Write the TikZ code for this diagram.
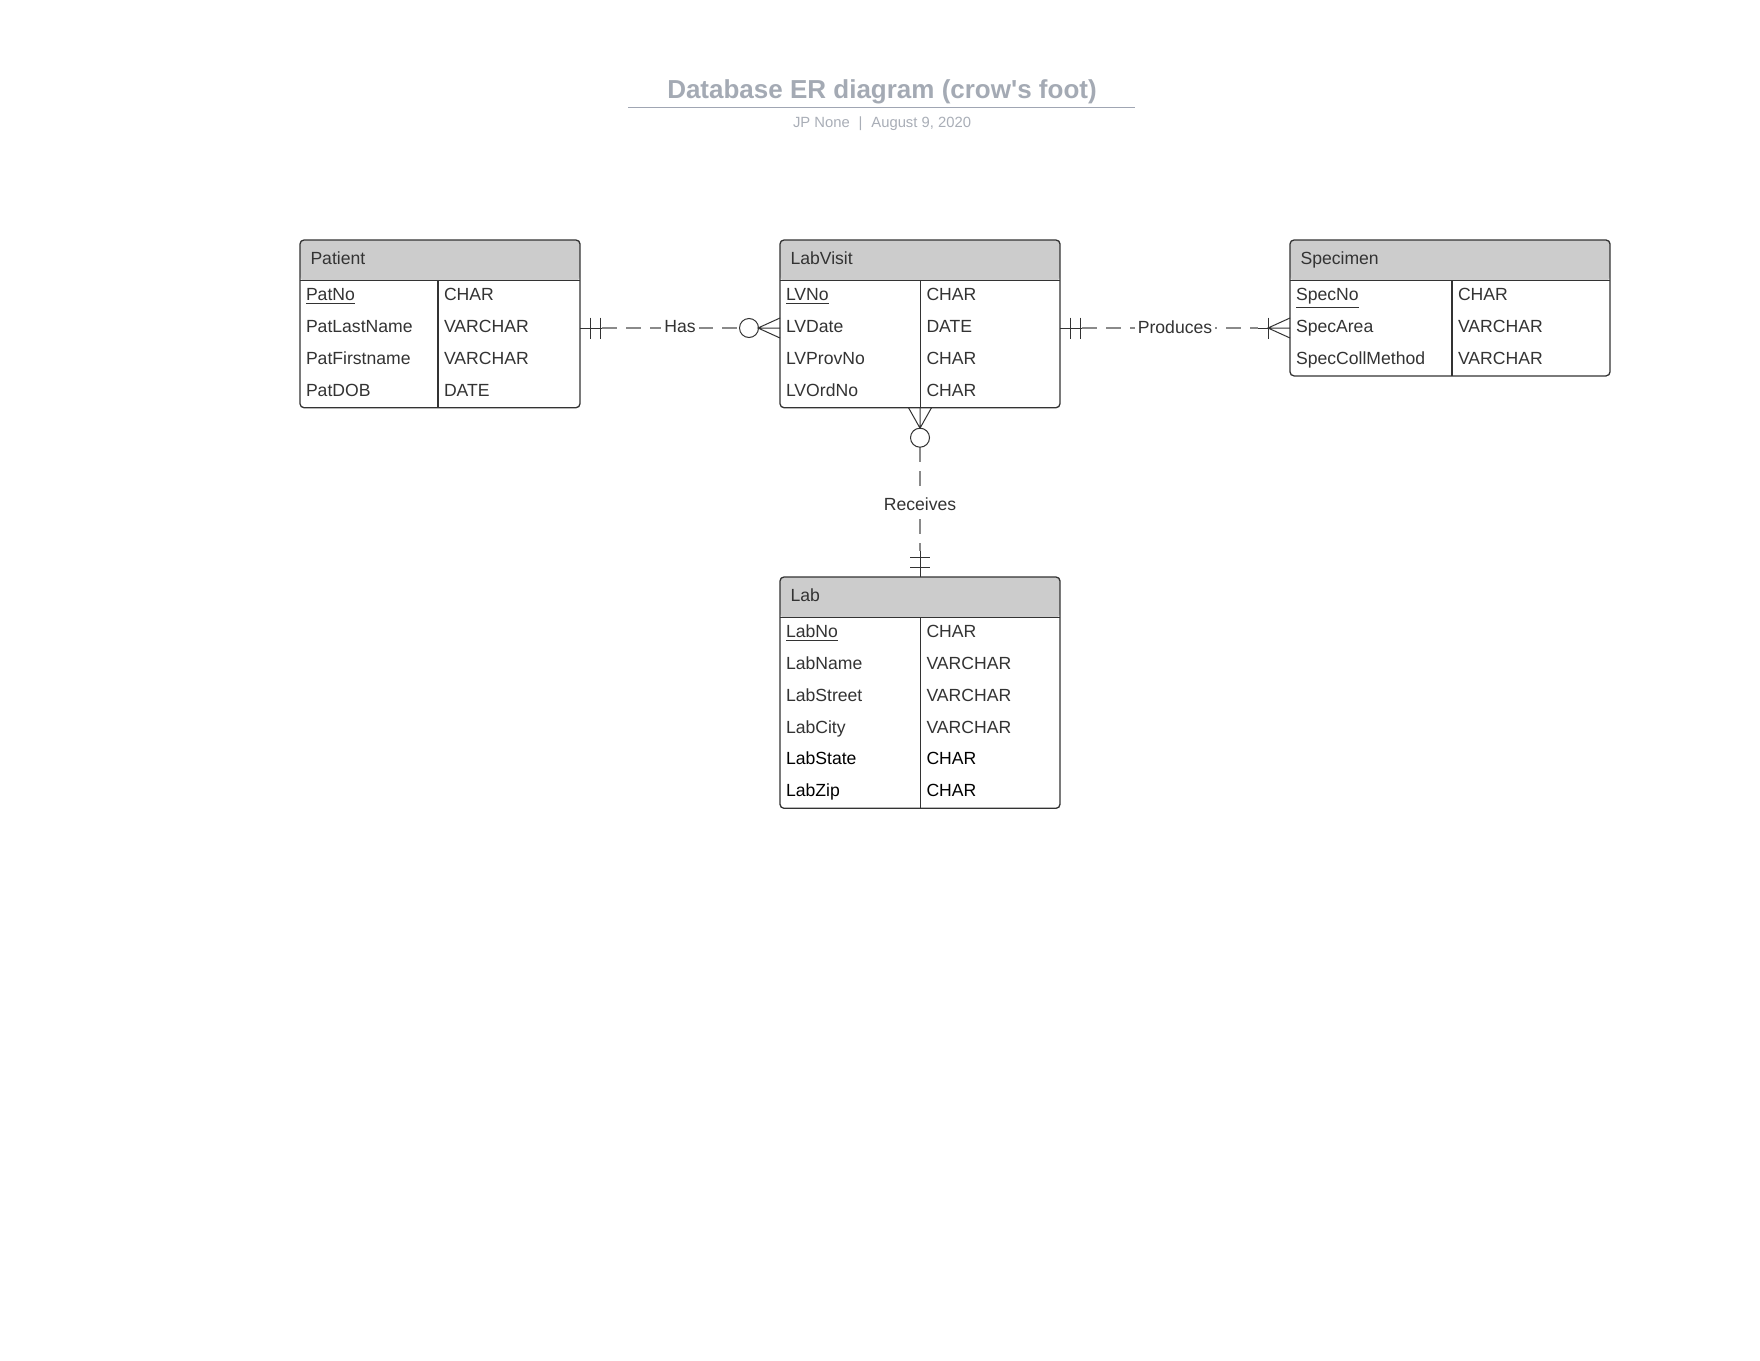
\documentclass[tikz,border=0pt]{standalone}
\usepackage{fontspec}
\setmainfont{Liberation Sans}
\usetikzlibrary{calc}

\definecolor{ink}{HTML}{333333}
\definecolor{hdrfill}{HTML}{CCCCCC}
\definecolor{titlegray}{HTML}{A4AAB4}
\definecolor{subgray}{HTML}{A9AEB7}
\definecolor{rulegray}{HTML}{A0A6B3}
\definecolor{dashgray}{HTML}{8A8A8A}

% one entity table: name, left x, top y, width, divider offset, rows, title, attribute/type list
\newcommand\erentity[8]{%
  \pgfmathsetmacro\entW{#4*0.5}%
  \pgfmathsetmacro\entH{(40.5+31.8*#6)*0.5}%
  \node[entity, minimum width=\entW pt, minimum height=\entH pt] (#1) at (#2,#3) {};
  \draw[ink, line width=0.65pt] ($(#1.north west)+(#5,40.5)$) -- ($(#1.south west)+(#5,0)$);
  \node[cell, anchor=base west] (#1-title) at ($(#1.north west)+(10.5,24)$) {#7};
  \foreach \a/\t [count=\i] in {#8} {
    \node[cell, anchor=base west] (#1-a\i) at ($(#1.north west)+(6,28.9+31.8*\i)$) {\a};
    \node[cell, anchor=base west] (#1-t\i) at ($(#1.north west)+(#5+6,28.9+31.8*\i)$) {\t};
  }
}
\newcommand\keyattr[1]{\underline{#1}}
\newcommand\darkattr[1]{\textcolor{black}{#1}}

\begin{document}
\begin{tikzpicture}[x=0.5pt,y=-0.5pt,
  every node/.style={inner sep=0pt, outer sep=0pt, font=\fontsize{8.8pt}{10pt}\selectfont},
  cell/.style={text=ink},
  entity/.style={draw=ink, line width=0.65pt, rounded corners=2pt, fill=white, anchor=north west,
    path picture={
      \fill[hdrfill] (path picture bounding box.north west) rectangle ([yshift=-20.25pt]path picture bounding box.north east);
      \draw[ink, line width=0.65pt] ([yshift=-20.25pt]path picture bounding box.north west) -- ([yshift=-20.25pt]path picture bounding box.north east);
    }},
  mk/.style={draw=ink, line width=0.5pt},
  dsh/.style={draw=dashgray, line width=0.6pt, dash pattern=on 7.5pt off 4.5pt},
  lbl/.style={fill=white, text=ink, inner xsep=1.5pt, inner ysep=2pt}]

\useasboundingbox[fill=white] (0,0) rectangle (1760,1360);

% heading
\node[font=\bfseries\fontsize{13pt}{15pt}\selectfont, text=titlegray, anchor=base] (title) at (882,98.3) {Database ER diagram (crow\textquotesingle s foot)};
\draw[rulegray, line width=0.65pt] (628,107.7) -- (1135,107.7);
\node[font=\fontsize{7.4pt}{9pt}\selectfont, text=subgray, anchor=base] (byline) at (882,127.7) {JP None\hspace{2.4pt} | \hspace{2.4pt}August 9, 2020};

% entities
\erentity{patient}{300}{240}{280}{138}{4}{Patient}{\keyattr{PatNo}/CHAR, PatLastName/VARCHAR, PatFirstname/VARCHAR, PatDOB/DATE}
\erentity{labvisit}{780}{240}{280}{140.5}{4}{LabVisit}{\keyattr{LVNo}/CHAR, LVDate/DATE, LVProvNo/CHAR, LVOrdNo/CHAR}
\erentity{specimen}{1290}{240}{320}{162}{3}{Specimen}{\keyattr{SpecNo}/CHAR, SpecArea/VARCHAR, SpecCollMethod/VARCHAR}
\erentity{lab}{780}{577}{280}{140.5}{6}{Lab}{\keyattr{LabNo}/CHAR, LabName/VARCHAR, LabStreet/VARCHAR, LabCity/VARCHAR, \darkattr{LabState}/\darkattr{CHAR}, \darkattr{LabZip}/\darkattr{CHAR}}

% Patient -- Has -- LabVisit (one and only one to zero or many)
\path ([yshift=-44pt]patient.north east) coordinate (hasL)
      ([yshift=-44pt]labvisit.north west) coordinate (hasR);
\draw[dsh] ($(hasL)+(22,0)$) -- ($(hasR)+(-40.5,0)$);
\draw[mk] (hasL) -- ++(22,0);
\draw[mk] ($(hasL)+(10,-10.5)$) -- ++(0,21) ($(hasL)+(20,-10.5)$) -- ++(0,21);
\draw[mk] ($(hasR)+(-31,0)$) circle[radius=4.75pt];
\draw[mk] ($(hasR)+(0,-10)$) -- ($(hasR)+(-22,0)$) -- ($(hasR)+(0,10)$)
          ($(hasR)+(-22,0)$) -- (hasR);
\node[lbl] (hasLabel) at ($($(hasL)!0.5!(hasR)$)+(0,-1)$) {Has};

% LabVisit -- Produces -- Specimen (one and only one to one or many)
\path ([yshift=-44pt]labvisit.north east) coordinate (prL)
      ([yshift=-44pt]specimen.north west) coordinate (prR);
\draw[dsh] ($(prL)+(22,0)$) -- ($(prR)+(-32,0)$);
\draw[mk] (prL) -- ++(22,0);
\draw[mk] ($(prL)+(10,-10.5)$) -- ++(0,21) ($(prL)+(20,-10.5)$) -- ++(0,21);
\draw[mk] ($(prR)+(-32,0)$) -- ($(prR)+(-22,0)$);
\draw[mk] ($(prR)+(-22,-10.5)$) -- ++(0,21);
\draw[mk] ($(prR)+(0,-10)$) -- ($(prR)+(-22,0)$) -- ($(prR)+(0,10)$)
          ($(prR)+(-22,0)$) -- (prR);
\node[lbl] (prLabel) at ($($(prL)!0.5!(prR)$)+(0,-1)$) {Produces};

% LabVisit -- Receives -- Lab (zero or many to one and only one)
\coordinate (rcT) at (labvisit.south);
\coordinate (rcB) at (lab.north);
\draw[dsh] ($(rcT)+(0,39.5)$) -- ($(rcB)+(0,-26)$);
\draw[mk] ($(rcT)+(-11.5,0)$) -- ($(rcT)+(0,20.5)$) -- ($(rcT)+(11.5,0)$)
          (rcT) -- ($(rcT)+(0,20.5)$);
\draw[mk] ($(rcT)+(0,30)$) circle[radius=4.75pt];
\draw[mk] ($(rcB)+(0,-26)$) -- (rcB);
\draw[mk] ($(rcB)+(-10,-20)$) -- ++(20,0) ($(rcB)+(-10,-10)$) -- ++(20,0);
\node[lbl] (rcLabel) at ($(rcT)+(0,96.5)$) {Receives};

\end{tikzpicture}
\end{document}
